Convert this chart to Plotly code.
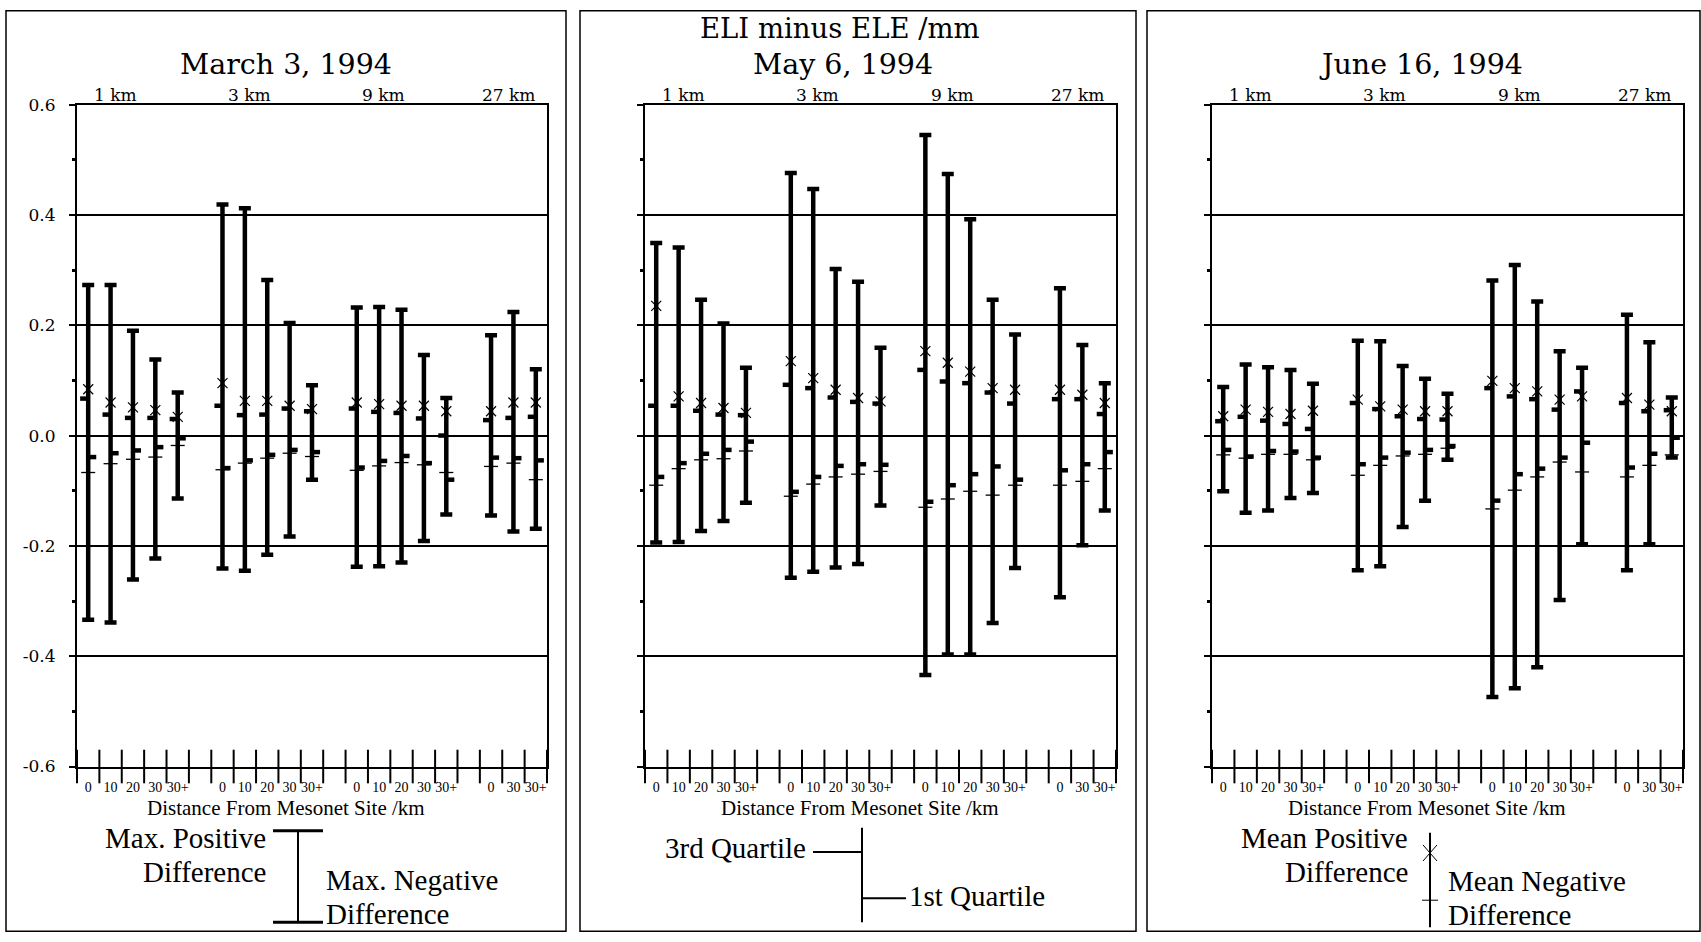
import plotly.graph_objects as go

# ---------------- data ----------------
groups = ["1 km", "3 km", "9 km", "27 km"]
group_distances = [
    ["0", "10", "20", "30", "30+"],
    ["0", "10", "20", "30", "30+"],
    ["0", "10", "20", "30", "30+"],
    ["0", "30", "30+"],
]
y_tick_vals = [-0.6, -0.4, -0.2, 0.0, 0.2, 0.4, 0.6]
y_tick_text = ["-0.6", "-0.4", "-0.2", "0.0", "0.2", "0.4", "0.6"]
panel_titles = ["March 3, 1994", "May 6, 1994", "June 16, 1994"]
main_title = "ELI minus ELE /mm"
x_title = "Distance From Mesonet Site /km"

# March 3, 1994
mar_max_pos = [0.273, 0.273, 0.190, 0.138, 0.078, 0.419, 0.412, 0.282, 0.204, 0.091,
               0.232, 0.233, 0.228, 0.146, 0.068, 0.182, 0.224, 0.120]
mar_max_neg = [-0.334, -0.339, -0.261, -0.223, -0.114, -0.241, -0.245, -0.216, -0.183, -0.080,
               -0.238, -0.237, -0.230, -0.191, -0.143, -0.145, -0.174, -0.169]
mar_q3 = [0.067, 0.038, 0.032, 0.032, 0.030, 0.054, 0.037, 0.038, 0.049, 0.044,
          0.049, 0.043, 0.041, 0.031, 0.000, 0.028, 0.032, 0.034]
mar_mean_pos = [0.084, 0.060, 0.051, 0.046, 0.034, 0.095, 0.063, 0.063, 0.054, 0.048,
                0.060, 0.057, 0.054, 0.054, 0.044, 0.044, 0.060, 0.060]
mar_q1 = [-0.039, -0.032, -0.027, -0.021, -0.005, -0.059, -0.045, -0.035, -0.026, -0.030,
          -0.058, -0.046, -0.037, -0.050, -0.080, -0.040, -0.041, -0.045]
mar_mean_neg = [-0.067, -0.051, -0.043, -0.039, -0.018, -0.062, -0.050, -0.041, -0.032, -0.038,
                -0.063, -0.055, -0.049, -0.053, -0.067, -0.056, -0.050, -0.080]

# May 6, 1994
may_max_pos = [0.349, 0.341, 0.246, 0.203, 0.123, 0.476, 0.447, 0.302, 0.279, 0.159,
               0.545, 0.474, 0.392, 0.246, 0.183, 0.267, 0.164, 0.095]
may_max_neg = [-0.194, -0.193, -0.173, -0.155, -0.122, -0.258, -0.247, -0.239, -0.233, -0.127,
               -0.434, -0.397, -0.397, -0.340, -0.240, -0.293, -0.199, -0.136]
may_q3 = [0.054, 0.054, 0.045, 0.038, 0.037, 0.092, 0.086, 0.069, 0.061, 0.058,
          0.119, 0.098, 0.095, 0.078, 0.058, 0.066, 0.066, 0.039]
may_mean_pos = [0.235, 0.071, 0.059, 0.050, 0.041, 0.135, 0.104, 0.083, 0.068, 0.062,
                0.153, 0.132, 0.116, 0.086, 0.083, 0.083, 0.074, 0.059]
may_q1 = [-0.075, -0.050, -0.033, -0.026, -0.011, -0.102, -0.075, -0.055, -0.052, -0.053,
          -0.120, -0.090, -0.070, -0.056, -0.080, -0.063, -0.052, -0.030]
may_mean_neg = [-0.090, -0.060, -0.044, -0.042, -0.028, -0.110, -0.088, -0.075, -0.070, -0.065,
                -0.130, -0.115, -0.101, -0.108, -0.090, -0.090, -0.083, -0.060]

# June 16, 1994
jun_max_pos = [0.088, 0.129, 0.124, 0.119, 0.094, 0.172, 0.171, 0.126, 0.103, 0.076,
               0.281, 0.309, 0.243, 0.153, 0.123, 0.219, 0.169, 0.069]
jun_max_neg = [-0.101, -0.140, -0.136, -0.113, -0.104, -0.244, -0.237, -0.166, -0.118, -0.044,
               -0.474, -0.458, -0.420, -0.298, -0.197, -0.244, -0.197, -0.040]
jun_q3 = [0.026, 0.034, 0.027, 0.021, 0.012, 0.059, 0.048, 0.035, 0.030, 0.029,
          0.086, 0.071, 0.066, 0.047, 0.080, 0.059, 0.044, 0.046]
jun_mean_pos = [0.035, 0.047, 0.043, 0.039, 0.045, 0.065, 0.053, 0.047, 0.044, 0.044,
                0.099, 0.086, 0.080, 0.065, 0.071, 0.068, 0.056, 0.044]
jun_q1 = [-0.026, -0.038, -0.028, -0.029, -0.040, -0.052, -0.040, -0.031, -0.026, -0.019,
          -0.118, -0.070, -0.060, -0.040, -0.013, -0.058, -0.033, -0.004]
jun_mean_neg = [-0.035, -0.041, -0.034, -0.034, -0.044, -0.072, -0.054, -0.037, -0.034, -0.023,
                -0.133, -0.099, -0.075, -0.048, -0.066, -0.075, -0.054, -0.035]

# ---------------- layout helpers ----------------
W, H = 1701, 942
SERIF = "DejaVu Serif"
TIMES = "Liberation Serif"
# observed vertical rendering offset/scale of the page, compensated below
V_OFF, V_SCALE = 11.4, 0.9737


def xp(p):
    return p / W


def yp(p):
    q = (p - V_OFF) / V_SCALE
    q = min(max(q, 0.8), H - 0.8)
    return 1 - q / H


# category slots: one slot per distance, one empty slot between groups
centers, cat_labels, group_start = [], [], []
pos = 0
for gi, dists in enumerate(group_distances):
    group_start.append(pos)
    for d in dists:
        centers.append(pos + 0.5)
        cat_labels.append(d)
        pos += 1
    if gi < len(group_distances) - 1:
        pos += 1
n_slots = pos
group_pos = [min(s + 1.7, n_slots - 1.7) for s in group_start]
boundaries = list(range(n_slots + 1))
minor_y = [(a + b) / 2 for a, b in zip(y_tick_vals[:-1], y_tick_vals[1:])]

panels = [
    dict(data=(mar_max_pos, mar_max_neg, mar_q3, mar_mean_pos, mar_q1, mar_mean_neg),
         plot=(77, 547), frame=(6, 566), cx=286, tx=-26, labels=True),
    dict(data=(may_max_pos, may_max_neg, may_q3, may_mean_pos, may_q1, may_mean_neg),
         plot=(645, 1116), frame=(580, 1136), cx=843, tx=-21, labels=False),
    dict(data=(jun_max_pos, jun_max_neg, jun_q3, jun_mean_pos, jun_q1, jun_mean_neg),
         plot=(1212, 1683), frame=(1147, 1700), cx=1421, tx=-21, labels=False),
]

PLOT_TOP, PLOT_BOT = 105.5, 764
STUB = 0.36

fig = go.Figure()
layout = dict(width=W, height=H, margin=dict(l=0, r=0, t=0, b=0),
              paper_bgcolor="white", plot_bgcolor="white", showlegend=False)
annotations, shapes = [], []

for i, p in enumerate(panels, start=1):
    sfx = "" if i == 1 else str(i)
    xa, ya = "x" + sfx, "y" + sfx
    max_pos, max_neg, q3, mean_pos, q1, mean_neg = p["data"]

    # range bars with caps (max positive / max negative differences)
    fig.add_trace(go.Scatter(
        x=centers, y=[0] * len(centers), mode="markers",
        marker=dict(size=1, color="rgba(0,0,0,0)"),
        error_y=dict(type="data", symmetric=False, array=max_pos,
                     arrayminus=[-v for v in max_neg], color="black",
                     thickness=4.5, width=6),
        xaxis=xa, yaxis=ya, hoverinfo="skip"))

    # 3rd quartile stubs (left) and 1st quartile stubs (right)
    sx, sy = [], []
    for c, v in zip(centers, q3):
        sx += [c - STUB, c, None]
        sy += [v, v, None]
    fig.add_trace(go.Scatter(x=sx, y=sy, mode="lines", line=dict(color="black", width=4.5),
                             xaxis=xa, yaxis=ya, hoverinfo="skip"))
    sx, sy = [], []
    for c, v in zip(centers, q1):
        sx += [c, c + STUB, None]
        sy += [v, v, None]
    fig.add_trace(go.Scatter(x=sx, y=sy, mode="lines", line=dict(color="black", width=4.5),
                             xaxis=xa, yaxis=ya, hoverinfo="skip"))

    # mean positive (thin X) and mean negative (thin dash)
    fig.add_trace(go.Scatter(x=centers, y=mean_pos, mode="markers",
                             marker=dict(symbol="x-thin", size=10, color="black",
                                         line=dict(color="black", width=1.2)),
                             xaxis=xa, yaxis=ya, hoverinfo="skip"))
    fig.add_trace(go.Scatter(x=centers, y=mean_neg, mode="markers",
                             marker=dict(symbol="line-ew", size=10, color="black",
                                         line=dict(color="black", width=1.3)),
                             xaxis=xa, yaxis=ya, hoverinfo="skip"))

    # crossing tick marks on the bottom axis at the slot boundaries
    fig.add_trace(go.Scatter(x=boundaries, y=[y_tick_vals[0]] * len(boundaries), mode="markers",
                             marker=dict(symbol="line-ns", size=24, color="black",
                                         line=dict(color="black", width=2)),
                             cliponaxis=False, xaxis=xa, yaxis=ya, hoverinfo="skip"))

    l, r = p["plot"]
    layout["xaxis" + sfx] = dict(
        domain=[xp(l), xp(r)], range=[0, n_slots], anchor=ya,
        showgrid=False, zeroline=False, showline=True, linewidth=2, linecolor="black",
        mirror=True, tickmode="array", tickvals=centers, ticktext=cat_labels,
        ticks="outside", ticklen=7, tickcolor="rgba(0,0,0,0)",
        tickfont=dict(family=TIMES, size=14, color="black"), fixedrange=True)
    layout["yaxis" + sfx] = dict(
        domain=[yp(PLOT_BOT), yp(PLOT_TOP)], range=[y_tick_vals[0], y_tick_vals[-1]], anchor=xa,
        showgrid=True, gridcolor="black", gridwidth=2, zeroline=False,
        showline=True, linewidth=2, linecolor="black", mirror=True,
        tickmode="array", tickvals=y_tick_vals, ticktext=y_tick_text,
        ticks="outside", ticklen=6, tickwidth=2, tickcolor="black",
        showticklabels=p["labels"], ticklabelstandoff=10,
        tickfont=dict(family=SERIF, size=17, color="black"),
        minor=dict(tickmode="array", tickvals=minor_y, ticks="outside",
                   ticklen=3, tickwidth=3, tickcolor="black"),
        fixedrange=True)

    # group labels above plot
    for g, gx in zip(groups, group_pos):
        annotations.append(dict(text=g, x=gx, y=1, xref=xa, yref=ya + " domain",
                                xanchor="center", yanchor="bottom", yshift=-2, showarrow=False,
                                font=dict(family=SERIF, size=17, color="black")))
    # panel title
    annotations.append(dict(text=panel_titles[i - 1], x=xp(p["cx"]), y=yp(66), xref="paper",
                            yref="paper", xanchor="center", yanchor="middle", showarrow=False,
                            font=dict(family=SERIF, size=28.5, color="black")))
    # x axis title
    annotations.append(dict(text=x_title, x=xp((l + r) / 2 + p["tx"]), y=yp(805), xref="paper",
                            yref="paper", xanchor="center", yanchor="middle", showarrow=False,
                            font=dict(family=TIMES, size=21, color="black")))
    # frame
    f0, f1 = p["frame"]
    shapes.append(dict(type="rect", xref="paper", yref="paper", x0=xp(f0), x1=xp(f1),
                       y0=yp(939), y1=yp(6), line=dict(color="black", width=1.5)))

annotations.append(dict(text=main_title, x=xp(840), y=yp(29), xref="paper", yref="paper",
                        xanchor="center", yanchor="middle", showarrow=False,
                        font=dict(family=SERIF, size=27.5, color="black")))

# ---------------- key explanations below each panel ----------------
LEG = dict(family=TIMES, size=29, color="black")


def txt(t, x, y, anchor):
    annotations.append(dict(text=t, x=xp(x), y=yp(y), xref="paper", yref="paper",
                            xanchor=anchor, yanchor="middle", showarrow=False, font=LEG))


def seg(x0, y0, x1, y1, w):
    shapes.append(dict(type="line", xref="paper", yref="paper", x0=xp(x0), y0=yp(y0),
                       x1=xp(x1), y1=yp(y1), line=dict(color="black", width=w)))


# panel 1 key
txt("Max. Positive", 268, 835, "right")
txt("Difference", 268, 869, "right")
txt("Max. Negative", 324, 877, "left")
txt("Difference", 324, 911, "left")
seg(273, 828, 323, 828, 3)
seg(298, 828, 298, 919, 2)
seg(273, 919, 323, 919, 3)

# panel 2 key
txt("3rd Quartile", 808, 845, "right")
txt("1st Quartile", 907, 893, "left")
seg(813, 849, 862, 849, 2)
seg(862, 825, 862, 919, 2)
seg(862, 895, 906, 895, 2)

# panel 3 key
txt("Mean Positive", 1410, 835, "right")
txt("Difference", 1410, 869, "right")
txt("Mean Negative", 1446, 878, "left")
txt("Difference", 1446, 912, "left")
seg(1430, 830, 1430, 924, 2)
seg(1423, 842, 1437, 858, 1)
seg(1423, 858, 1437, 842, 1)
seg(1422, 897, 1438, 897, 1)

layout["annotations"] = annotations
layout["shapes"] = shapes
fig.update_layout(**layout)
fig.write_html("out.html", config={"displayModeBar": False},
               post_script="document.body.style.margin='0';document.body.style.overflow='hidden';")
